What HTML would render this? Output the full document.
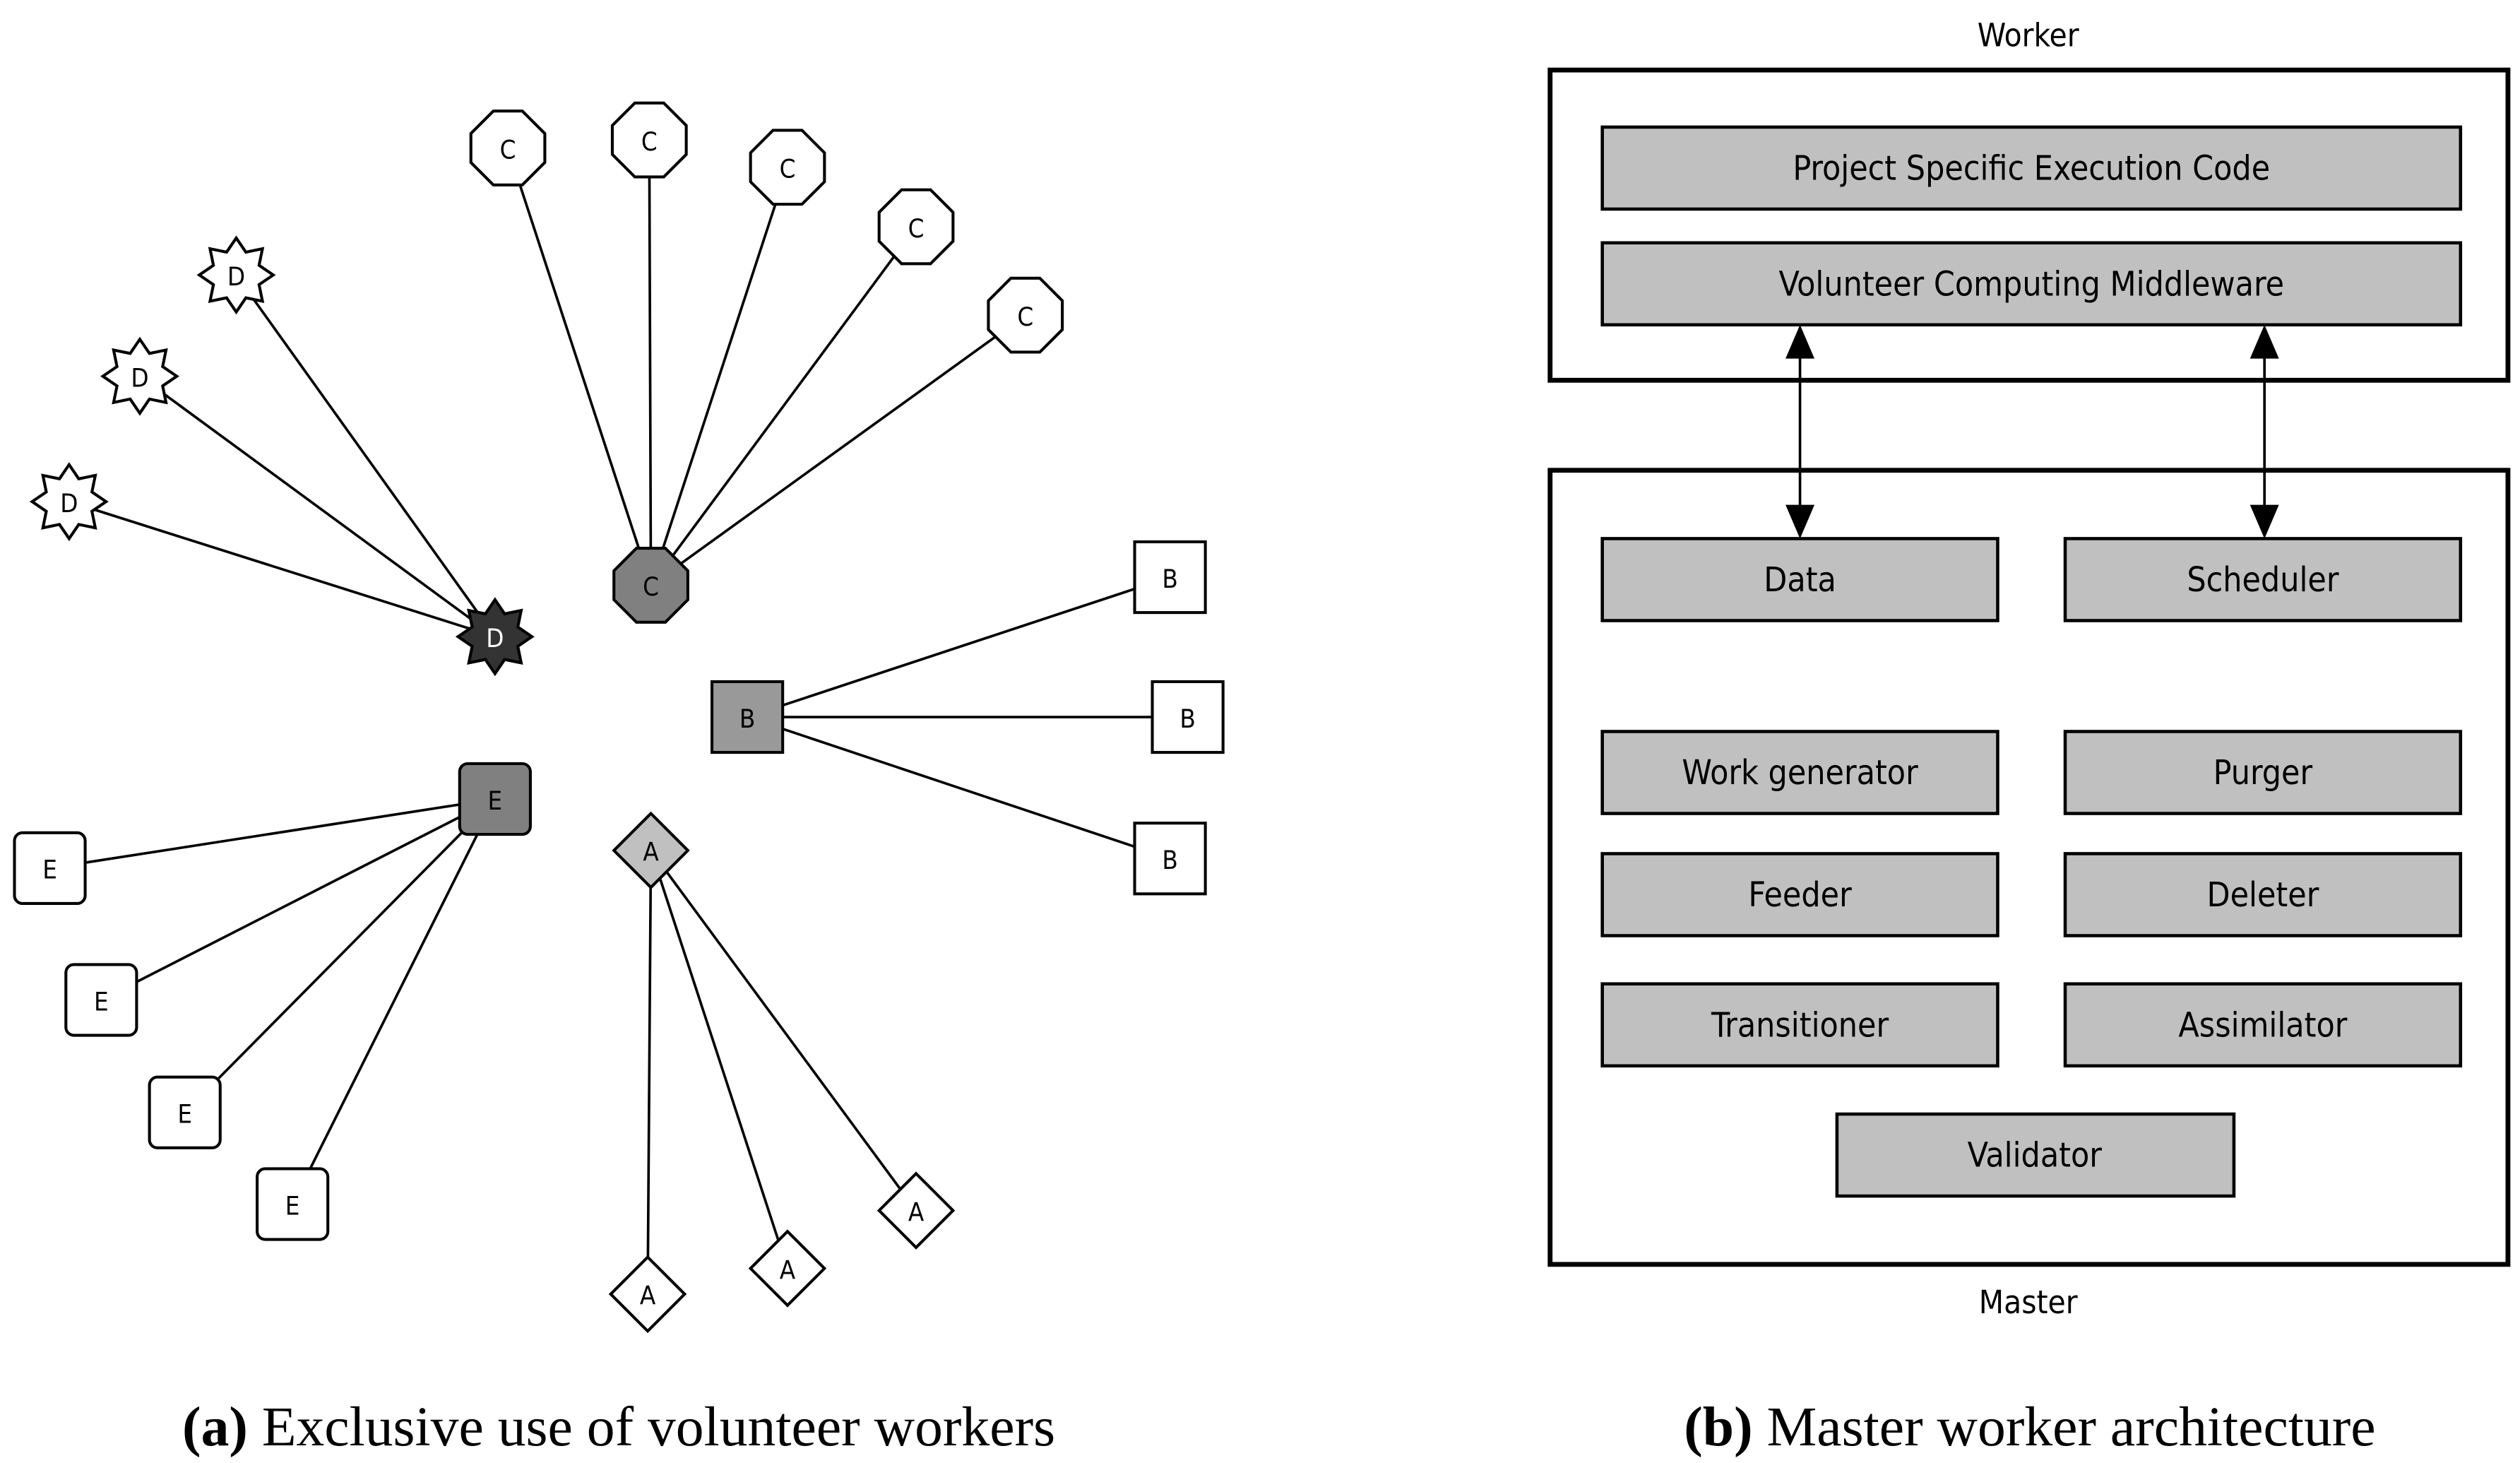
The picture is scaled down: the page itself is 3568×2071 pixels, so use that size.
<!DOCTYPE html>
<html><head><meta charset="utf-8"><style>html,body{margin:0;padding:0;background:#fff}svg{display:block}</style></head>
<body>
<svg width="3568" height="2071" viewBox="0 0 1568 910" xmlns="http://www.w3.org/2000/svg">
<defs>
<polygon id="oct" points="-9,-23 9,-23 23,-9 23,9 9,23 -9,23 -23,9 -23,-9"/>
<polygon id="star" points="0,-23 6,-14.2 16.3,-16.3 14.2,-6 23,0 14.2,6 16.3,16.3 6,14.2 0,23 -6,14.2 -16.3,16.3 -14.2,6 -23,0 -14.2,-6 -16.3,-16.3 -6,-14.2"/>
<polygon id="dia" points="0,-23 23,0 0,23 -23,0"/>
<rect id="sq" x="-22" y="-22" width="44" height="44"/>
<rect id="rsq" x="-22" y="-22" width="44" height="44" rx="5"/>
</defs>
<g stroke="#000" stroke-width="1.6">
<line x1="405" y1="364" x2="316" y2="92"/><line x1="405" y1="364" x2="404" y2="87"/>
<line x1="405" y1="364" x2="490" y2="104"/><line x1="405" y1="364" x2="570" y2="141"/>
<line x1="405" y1="364" x2="638" y2="196"/>
<line x1="308" y1="396" x2="147" y2="171"/><line x1="308" y1="396" x2="87" y2="234"/>
<line x1="308" y1="396" x2="43" y2="312"/>
<line x1="465" y1="446" x2="728" y2="359"/><line x1="465" y1="446" x2="739" y2="446"/>
<line x1="465" y1="446" x2="728" y2="534"/>
<line x1="308" y1="497" x2="31" y2="540"/><line x1="308" y1="497" x2="63" y2="622"/>
<line x1="308" y1="497" x2="115" y2="692"/><line x1="308" y1="497" x2="182" y2="749"/>
<line x1="405" y1="529" x2="403" y2="805"/><line x1="405" y1="529" x2="490" y2="789"/>
<line x1="405" y1="529" x2="570" y2="753"/>
</g>
<g stroke="#000" stroke-width="1.8" fill="#fff">
<use href="#oct" x="316" y="92"/><use href="#oct" x="404" y="87"/><use href="#oct" x="490" y="104"/>
<use href="#oct" x="570" y="141"/><use href="#oct" x="638" y="196"/>
<use href="#oct" x="405" y="364" fill="#808080"/>
<use href="#star" x="147" y="171"/><use href="#star" x="87" y="234"/><use href="#star" x="43" y="312"/>
<use href="#star" x="308" y="396" fill="#333"/>
<use href="#sq" x="728" y="359"/><use href="#sq" x="739" y="446"/><use href="#sq" x="728" y="534"/>
<use href="#sq" x="465" y="446" fill="#999"/>
<use href="#rsq" x="31" y="540"/><use href="#rsq" x="63" y="622"/><use href="#rsq" x="115" y="692"/>
<use href="#rsq" x="182" y="749"/><use href="#rsq" x="308" y="497" fill="#808080"/>
<use href="#dia" x="403" y="805"/><use href="#dia" x="490" y="789"/><use href="#dia" x="570" y="753"/>
<use href="#dia" x="405" y="529" fill="#c0c0c0"/>
</g>
<g font-family="DejaVu Sans, Liberation Sans, sans-serif" font-stretch="condensed" font-size="16" text-anchor="middle" dominant-baseline="central" fill="#000">
<text x="316" y="93">C</text><text x="404" y="88">C</text><text x="490" y="105">C</text>
<text x="570" y="142">C</text><text x="638" y="197">C</text><text x="405" y="365">C</text>
<text x="147" y="172">D</text><text x="87" y="235">D</text><text x="43" y="313">D</text>
<text x="308" y="397" fill="#fff">D</text>
<text x="728" y="360">B</text><text x="739" y="447">B</text><text x="728" y="535">B</text><text x="465" y="447">B</text>
<text x="31" y="541">E</text><text x="63" y="623">E</text><text x="115" y="693">E</text><text x="182" y="750">E</text><text x="308" y="498">E</text>
<text x="403" y="806">A</text><text x="490" y="790">A</text><text x="570" y="754">A</text><text x="405" y="530">A</text>
</g>
<g fill="none" stroke="#000" stroke-width="3">
<rect x="964.5" y="43.5" width="596" height="193"/>
<rect x="964.5" y="292.5" width="596" height="494"/>
</g>
<g fill="#c0c0c0" stroke="#000" stroke-width="2">
<rect x="997" y="79" width="534" height="51"/>
<rect x="997" y="151" width="534" height="51"/>
<rect x="997" y="335" width="246" height="51"/><rect x="1285" y="335" width="246" height="51"/>
<rect x="997" y="455" width="246" height="51"/><rect x="1285" y="455" width="246" height="51"/>
<rect x="997" y="531" width="246" height="51"/><rect x="1285" y="531" width="246" height="51"/>
<rect x="997" y="612" width="246" height="51"/><rect x="1285" y="612" width="246" height="51"/>
<rect x="1143" y="693" width="247" height="51"/>
</g>
<g stroke="#000" stroke-width="1.6"><line x1="1120" y1="215" x2="1120" y2="320"/><line x1="1409" y1="215" x2="1409" y2="320"/></g>
<g fill="#000">
<polygon points="1120,202 1111,223 1129,223"/><polygon points="1120,335 1111,314 1129,314"/>
<polygon points="1409,202 1400,223 1418,223"/><polygon points="1409,335 1400,314 1418,314"/>
</g>
<g font-family="DejaVu Sans, Liberation Sans, sans-serif" font-stretch="condensed" font-size="21" text-anchor="middle" dominant-baseline="central" fill="#000">
<text x="1262" y="22" font-size="20">Worker</text>
<text x="1262" y="810" font-size="20">Master</text>
<text x="1264" y="105">Project Specific Execution Code</text>
<text x="1264" y="177">Volunteer Computing Middleware</text>
<text x="1120" y="361">Data</text><text x="1408" y="361">Scheduler</text>
<text x="1120" y="481">Work generator</text><text x="1408" y="481">Purger</text>
<text x="1120" y="557">Feeder</text><text x="1408" y="557">Deleter</text>
<text x="1120" y="638">Transitioner</text><text x="1408" y="638">Assimilator</text>
<text x="1266" y="719">Validator</text>
</g>
<g font-family="Liberation Serif, serif" font-size="35" text-anchor="middle" fill="#000">
<text x="385" y="899"><tspan font-weight="bold">(a)</tspan> Exclusive use of volunteer workers</text>
<text x="1263" y="899"><tspan font-weight="bold">(b)</tspan> Master worker architecture</text>
</g>
</svg>
</body></html>
